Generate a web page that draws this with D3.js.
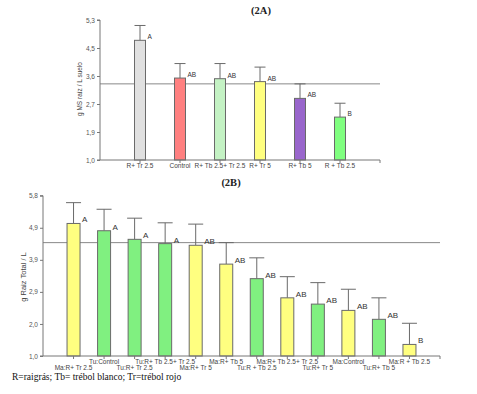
<!DOCTYPE html>
<html>
<head>
<meta charset="utf-8">
<script src="https://cdn.jsdelivr.net/npm/d3@7"></script>
<style>
  body { margin: 0; background: #fff; }
  svg { display: block; font-family: "Liberation Sans", Arial, sans-serif; }
</style>
</head>
<body>
<svg id="chart" width="477" height="394"></svg>
<script>
// ---- data: chart 2A ----
const catsA = ['R+ Tr 2.5', 'Control', 'R+ Tb 2.5+ Tr 2.5', 'R+ Tr 5', 'R+ Tb 5', 'R + Tb 2.5'];
const meansA = [4.71, 3.54, 3.52, 3.43, 2.91, 2.33];
const errTopA = [5.17, 3.99, 3.99, 3.88, 3.36, 2.76];
const lettersA = ['A', 'AB', 'AB', 'AB', 'AB', 'B'];
const colorsA = ['#e0e0e0', '#ff8080', '#c4f2c4', '#ffff80', '#9966cc', '#80ff80'];
const refA = 3.36;
const ticksA = [1.0, 1.868, 2.736, 3.604, 4.472, 5.34];
const tickLabelsA = ['1,0', '1,9', '2,7', '3,6', '4,5', '5,3'];

// ---- data: chart 2B ----
const catsB = ['Ma:R+ Tr 2.5', 'Tu:Control', 'Tu:R+ Tr 2.5', 'Tu:R+ Tb 2.5+ Tr 2.5', 'Ma:R+ Tr 5', 'Ma:R+ Tb 5',
               'Tu:R + Tb 2.5', 'Ma:R+ Tb 2.5+ Tr 2.5', 'Tu:R+ Tr 5', 'Ma:Control', 'Tu:R+ Tb 5', 'Ma:R + Tb 2.5'];
const meansB = [5.01, 4.79, 4.53, 4.40, 4.35, 3.78, 3.34, 2.76, 2.57, 2.38, 2.11, 1.35];
const errTopB = [5.64, 5.44, 5.17, 5.03, 4.99, 4.43, 3.97, 3.40, 3.22, 3.02, 2.76, 1.99];
const lettersB = ['A', 'A', 'A', 'A', 'AB', 'AB', 'AB', 'AB', 'AB', 'AB', 'AB', 'B'];
const refB = 4.43;
const ticksB = [1.0, 1.97, 2.94, 3.91, 4.88, 5.85];
const tickLabelsB = ['1,0', '2,0', '2,9', '3,9', '4,9', '5,8'];

const svg = d3.select('#chart');
const axisColor = '#777';
const barStroke = '#6a6a6a';

function drawPanel(opts) {
    const { cats, means, errTop, letters, colors, ref, ticks, tickLabels,
            x0, x1, y0, y1, barW, capW, fontSize, letterSize, stagger, labelY } = opts;

    const x = d3.scaleBand().domain(cats).range([x0, x1])
        .paddingOuter(0.5).paddingInner(0);
    const y = d3.scaleLinear().domain([ticks[0], ticks[ticks.length - 1]]).range([y0, y1]);
    const g = svg.append('g');

    // reference line
    g.append('line')
        .attr('x1', x0).attr('x2', x1)
        .attr('y1', y(ref)).attr('y2', y(ref))
        .attr('stroke', '#888').attr('stroke-width', 1);

    // error bars
    cats.forEach((c, i) => {
        const cx = x(c) + x.bandwidth() / 2;
        g.append('line')
            .attr('x1', cx).attr('x2', cx)
            .attr('y1', y(means[i])).attr('y2', y(errTop[i]))
            .attr('stroke', barStroke).attr('stroke-width', 1);
        g.append('line')
            .attr('x1', cx - capW / 2).attr('x2', cx + capW / 2)
            .attr('y1', y(errTop[i])).attr('y2', y(errTop[i]))
            .attr('stroke', barStroke).attr('stroke-width', 1);
    });

    // bars
    g.selectAll('rect.bar').data(cats).enter().append('rect')
        .attr('class', 'bar')
        .attr('x', d => x(d) + x.bandwidth() / 2 - barW / 2)
        .attr('width', barW)
        .attr('y', (d, i) => y(means[i]))
        .attr('height', (d, i) => y0 - y(means[i]))
        .attr('fill', (d, i) => colors[i])
        .attr('stroke', barStroke).attr('stroke-width', 1);

    // significance letters
    g.selectAll('text.letter').data(cats).enter().append('text')
        .attr('class', 'letter')
        .attr('x', d => x(d) + x.bandwidth() / 2 + barW / 2 + 2)
        .attr('y', (d, i) => y(means[i]) - 1)
        .attr('font-size', letterSize)
        .attr('fill', '#333')
        .text((d, i) => letters[i]);

    // y axis
    const yAxis = d3.axisLeft(y).tickValues(ticks)
        .tickFormat((d, i) => tickLabels[i]).tickSize(3).tickPadding(2);
    const ya = g.append('g').attr('transform', `translate(${x0},0)`).call(yAxis);
    ya.select('.domain').attr('stroke', axisColor).attr('d', `M-3,${y1}H0V${y0}H-3`);
    ya.selectAll('.tick line').attr('stroke', axisColor);
    ya.selectAll('.tick text').attr('font-size', fontSize).attr('fill', '#555')
        .attr('font-family', '"Liberation Sans", Arial, sans-serif');

    // x axis
    const xAxis = d3.axisBottom(x).tickSize(3).tickSizeOuter(0).tickFormat('');
    const xa = g.append('g').attr('transform', `translate(0,${y0})`).call(xAxis);
    xa.select('.domain').attr('stroke', axisColor).attr('d', `M${x0},0H${x1}V3`);
    xa.selectAll('.tick line').attr('stroke', axisColor);

    g.selectAll('text.xlab').data(cats).enter().append('text')
        .attr('class', 'xlab')
        .attr('x', d => x(d) + x.bandwidth() / 2)
        .attr('y', (d, i) => stagger ? (i % 2 === 0 ? labelY + 6 : labelY) : labelY)
        .attr('text-anchor', 'middle')
        .attr('font-size', fontSize)
        .attr('fill', '#444')
        .text(d => d);
}

drawPanel({
    cats: catsA, means: meansA, errTop: errTopA, letters: lettersA, colors: colorsA,
    ref: refA, ticks: ticksA, tickLabels: tickLabelsA,
    x0: 100, x1: 380, y0: 160, y1: 20, barW: 11, capW: 11,
    fontSize: 6.5, letterSize: 6.5, stagger: false, labelY: 168
});

drawPanel({
    cats: catsB, means: meansB, errTop: errTopB, letters: lettersB,
    colors: catsB.map(c => c.startsWith('Ma') ? '#ffff80' : '#80f080'),
    ref: refB, ticks: ticksB, tickLabels: tickLabelsB,
    x0: 43, x1: 440, y0: 356, y1: 195.7, barW: 13, capW: 15,
    fontSize: 6.5, letterSize: 8, stagger: true, labelY: 364
});

// titles
svg.append('text').attr('x', 261).attr('y', 14).attr('text-anchor', 'middle')
    .attr('font-family', '"Liberation Serif", "Times New Roman", serif')
    .attr('font-size', 10.5).attr('font-weight', 'bold').attr('fill', '#222')
    .text('(2A)');
svg.append('text').attr('x', 231).attr('y', 186).attr('text-anchor', 'middle')
    .attr('font-family', '"Liberation Serif", "Times New Roman", serif')
    .attr('font-size', 10.5).attr('font-weight', 'bold').attr('fill', '#222')
    .text('(2B)');

// y-axis labels
svg.append('text').attr('transform', 'translate(82,89) rotate(-90)')
    .attr('text-anchor', 'middle').attr('font-size', 6.5).attr('fill', '#444')
    .text('g MS raíz / L suelo');
svg.append('text').attr('transform', 'translate(26,277) rotate(-90)')
    .attr('text-anchor', 'middle').attr('font-size', 7.5).attr('fill', '#444')
    .text('g Raiz Total / L');

// footnote
svg.append('text').attr('x', 12).attr('y', 380)
    .attr('font-family', '"Liberation Serif", "Times New Roman", serif')
    .attr('font-size', 9.5).attr('fill', '#111')
    .text('R=raigrás; Tb= trébol blanco; Tr=trébol rojo');
</script>
</body>
</html>
